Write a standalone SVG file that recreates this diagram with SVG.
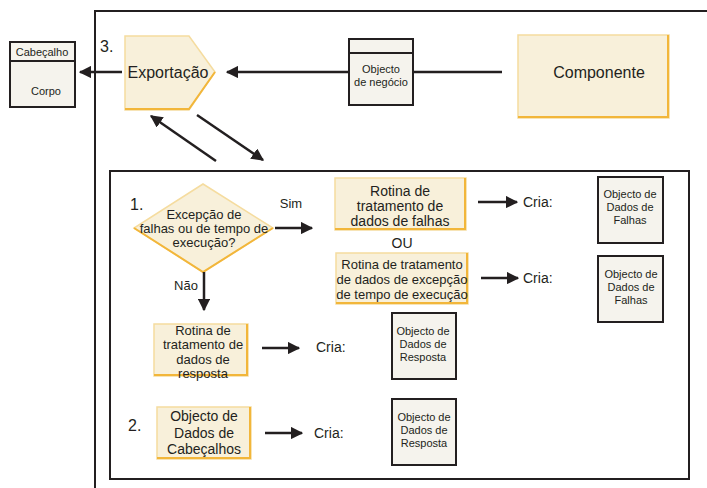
<svg xmlns="http://www.w3.org/2000/svg" width="707" height="488" viewBox="0 0 707 488">
<style>
text{font-family:"Liberation Sans",Arial,sans-serif;fill:#231f20}
.y{fill:#f8f0da;stroke:#f5dc9f;stroke-width:1.5}
.ye{fill:none;stroke:#f2b63a;stroke-width:2}
.d{fill:#f5f3ed;stroke:#231f20;stroke-width:2}
.ln{stroke:#231f20;stroke-width:2.5;fill:none}
.fr{stroke:#231f20;stroke-width:2;fill:none}
.t11{font-size:11px}
.t13{font-size:13px}
.t14{font-size:14px}
.t16{font-size:16px}
</style>
<defs>
<marker id="ah" viewBox="0 0 10 10" refX="9" refY="5" markerWidth="5" markerHeight="5" markerUnits="strokeWidth" orient="auto">
<path d="M0,0 L10,5 L0,10 z" fill="#231f20"/>
</marker>
</defs>
<g id="frames">
<path class="fr" d="M95,488 V11 H707"/>
<rect class="fr" x="110" y="171" width="579" height="308"/>
</g>
<g id="header-body">
<rect class="d" x="10" y="42" width="65" height="65"/>
<line x1="10" y1="61" x2="75" y2="61" stroke="#231f20" stroke-width="2"/>
<text class="t11" x="42" y="56" text-anchor="middle">Cabeçalho</text>
<text class="t11" x="46" y="95" text-anchor="middle">Corpo</text>
</g>
<text class="t16" x="100" y="52">3.</text>
<g id="export">
<path class="y" d="M125,36 H189 L215,72 L189,110 H125 z"/>
<path class="ye" d="M125,109 H189 L215,72"/>
<text class="t16" x="168" y="78" text-anchor="middle">Exportação</text>
</g>
<g id="business-object">
<rect class="d" x="349" y="39" width="64" height="66"/>
<line x1="349" y1="53" x2="413" y2="53" stroke="#231f20" stroke-width="2"/>
<text class="t11" x="381" y="73" text-anchor="middle">Objecto</text>
<text class="t11" x="381" y="86" text-anchor="middle">de negócio</text>
</g>
<g id="component">
<rect class="y" x="518" y="35" width="151" height="83"/>
<path class="ye" d="M518,117 H668 V35"/>
<text class="t16" x="599" y="78" text-anchor="middle">Componente</text>
</g>
<g id="decision">
<text class="t16" x="130" y="210">1.</text>
<path class="y" d="M203,184 L273,228 L203,272 L134,228 z"/>
<path class="ye" d="M134,228 L203,272 L273,228"/>
<text class="t13" x="204" y="219" text-anchor="middle">Excepção de</text>
<text class="t13" x="204" y="233" text-anchor="middle">falhas ou de tempo de</text>
<text class="t13" x="204" y="247" text-anchor="middle">execução?</text>
<text class="t13" x="291" y="208" text-anchor="middle">Sim</text>
<text class="t13" x="186" y="290" text-anchor="middle">Não</text>
</g>
<g id="fault-handler">
<rect class="y" x="335" y="178" width="131" height="52"/>
<path class="ye" d="M335,229 H465 V178"/>
<text class="t14" x="400" y="196" text-anchor="middle">Rotina de</text>
<text class="t14" x="400" y="211" text-anchor="middle">tratamento de</text>
<text class="t14" x="400" y="226" text-anchor="middle">dados de falhas</text>
</g>
<text class="t14" x="402" y="248" text-anchor="middle">OU</text>
<g id="runtime-handler">
<rect class="y" x="336" y="253" width="132" height="51"/>
<path class="ye" d="M336,303 H467 V253"/>
<text class="t13" x="402" y="269" text-anchor="middle">Rotina de tratamento</text>
<text class="t13" x="402" y="284" text-anchor="middle">de dados de excepção</text>
<text class="t13" x="402" y="299" text-anchor="middle">de tempo de execução</text>
</g>
<g id="fault-data-1">
<rect class="d" x="598" y="177" width="65" height="66"/>
<text class="t11" x="630" y="198" text-anchor="middle">Objecto de</text>
<text class="t11" x="630" y="211" text-anchor="middle">Dados de</text>
<text class="t11" x="630" y="224" text-anchor="middle">Falhas</text>
</g>
<g id="fault-data-2">
<rect class="d" x="598" y="256" width="65" height="66"/>
<text class="t11" x="631" y="278" text-anchor="middle">Objecto de</text>
<text class="t11" x="631" y="291" text-anchor="middle">Dados de</text>
<text class="t11" x="631" y="304" text-anchor="middle">Falhas</text>
</g>
<g id="response-handler">
<rect class="y" x="154" y="324" width="94" height="52"/>
<path class="ye" d="M154,375 H247 V324"/>
<text class="t13" x="203" y="335" text-anchor="middle">Rotina de</text>
<text class="t13" x="203" y="349" text-anchor="middle">tratamento de</text>
<text class="t13" x="203" y="364" text-anchor="middle">dados de</text>
<text class="t13" x="203" y="378" text-anchor="middle">resposta</text>
</g>
<g id="response-data-1">
<rect class="d" x="392" y="313" width="64" height="66"/>
<text class="t11" x="423" y="335" text-anchor="middle">Objecto de</text>
<text class="t11" x="423" y="348" text-anchor="middle">Dados de</text>
<text class="t11" x="423" y="361" text-anchor="middle">Resposta</text>
</g>
<text class="t16" x="128" y="431">2.</text>
<g id="headers-data">
<rect class="y" x="157" y="407" width="94" height="52"/>
<path class="ye" d="M157,458 H250 V407"/>
<text class="t14" x="204" y="421" text-anchor="middle">Objecto de</text>
<text class="t14" x="204" y="438" text-anchor="middle">Dados de</text>
<text class="t14" x="204" y="454" text-anchor="middle">Cabeçalhos</text>
</g>
<g id="response-data-2">
<rect class="d" x="392" y="399" width="64" height="66"/>
<text class="t11" x="424" y="421" text-anchor="middle">Objecto de</text>
<text class="t11" x="424" y="434" text-anchor="middle">Dados de</text>
<text class="t11" x="424" y="447" text-anchor="middle">Resposta</text>
</g>
<g id="cria-labels" class="t14">
<text x="523" y="207">Cria:</text>
<text x="523" y="283">Cria:</text>
<text x="316" y="352">Cria:</text>
<text x="314" y="438">Cria:</text>
</g>
<g id="connectors">
<line class="ln" x1="122" y1="72" x2="80" y2="72" marker-end="url(#ah)"/>
<line class="ln" x1="349" y1="72" x2="227" y2="72" marker-end="url(#ah)"/>
<line class="ln" x1="502" y1="72" x2="413" y2="72"/>
<line class="ln" x1="216" y1="161" x2="151" y2="116" marker-end="url(#ah)"/>
<line class="ln" x1="197" y1="115" x2="263" y2="160" marker-end="url(#ah)"/>
<line class="ln" x1="275" y1="228" x2="312" y2="228" marker-end="url(#ah)"/>
<line class="ln" x1="204" y1="272" x2="204" y2="310" marker-end="url(#ah)"/>
<line class="ln" x1="478" y1="202" x2="517" y2="202" marker-end="url(#ah)"/>
<line class="ln" x1="481" y1="278" x2="518" y2="278" marker-end="url(#ah)"/>
<line class="ln" x1="262" y1="348" x2="299" y2="348" marker-end="url(#ah)"/>
<line class="ln" x1="265" y1="433" x2="302" y2="433" marker-end="url(#ah)"/>
</g>
</svg>
